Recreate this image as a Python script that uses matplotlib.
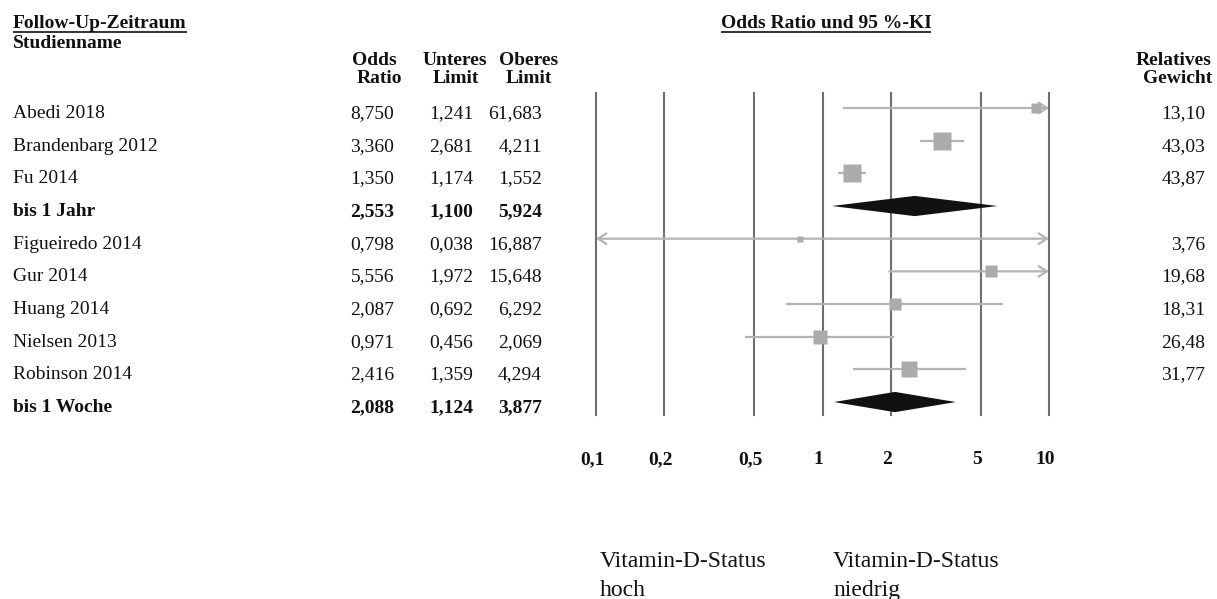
import numpy as np
import matplotlib
matplotlib.use("Agg")
import matplotlib.pyplot as plt
from matplotlib.transforms import blended_transform_factory, offset_copy

plt.rcParams['font.family'] = ['Liberation Serif', 'DejaVu Serif']

# ---------------- data ----------------
studies = ["Abedi 2018", "Brandenbarg 2012", "Fu 2014", "bis 1 Jahr",
           "Figueiredo 2014", "Gur 2014", "Huang 2014", "Nielsen 2013",
           "Robinson 2014", "bis 1 Woche"]
odds_ratio = [8.750, 3.360, 1.350, 2.553, 0.798, 5.556, 2.087, 0.971, 2.416, 2.088]
lower_limit = [1.241, 2.681, 1.174, 1.100, 0.038, 1.972, 0.692, 0.456, 1.359, 1.124]
upper_limit = [61.683, 4.211, 1.552, 5.924, 16.887, 15.648, 6.292, 2.069, 4.294, 3.877]
rel_weight = [13.10, 43.03, 43.87, None, 3.76, 19.68, 18.31, 26.48, 31.77, None]
is_summary = [False, False, False, True, False, False, False, False, False, True]
tick_values = [0.1, 0.2, 0.5, 1, 2, 5, 10]
tick_labels = ["0,1", "0,2", "0,5", "1", "2", "5", "10"]


def de(v):
    return f"{v:.3f}".replace('.', ',')


def de2(v):
    return f"{v:.2f}".replace('.', ',')


W, H = 1217, 599
fig = plt.figure(figsize=(W / 100, H / 100), dpi=100)
fig.patch.set_facecolor('white')

# overlay axes in pixel coordinates for the table text
tab = fig.add_axes([0, 0, 1, 1])
tab.set_xlim(0, W)
tab.set_ylim(H, 0)
tab.axis('off')

FS = 14
row_y0, row_dy = 108, 32.67
base_off = 10  # baseline offset of row text relative to mark centre

hb = dict(fontsize=FS, fontweight='bold', va='baseline', color='#111111')
# headers
t1 = tab.text(13, 28, "Follow-Up-Zeitraum", ha='left', **hb)
tab.text(13, 48, "Studienname", ha='left', **hb)
t2 = tab.text(826, 28, "Odds Ratio und 95 %-KI", ha='center', **hb)
tab.text(374, 65, "Odds", ha='center', **hb)
tab.text(379.5, 83, "Ratio", ha='center', **hb)
tab.text(455, 65, "Unteres", ha='center', **hb)
tab.text(455.5, 83, "Limit", ha='center', **hb)
tab.text(528.5, 65, "Oberes", ha='center', **hb)
tab.text(528.5, 83, "Limit", ha='center', **hb)
tab.text(1212, 65, "Relatives", ha='right', **hb)
tab.text(1212, 83, "Gewicht", ha='right', **hb)

for i, name in enumerate(studies):
    y = row_y0 + i * row_dy + base_off
    fw = 'bold' if is_summary[i] else 'normal'
    kw = dict(fontsize=FS, fontweight=fw, va='baseline', color='#111111')
    tab.text(13, y, name, ha='left', **kw)
    tab.text(394, y, de(odds_ratio[i]), ha='right', **kw)
    tab.text(473, y, de(lower_limit[i]), ha='right', **kw)
    tab.text(542, y, de(upper_limit[i]), ha='right', **kw)
    if rel_weight[i] is not None:
        tab.text(1205, y, de2(rel_weight[i]), ha='right', fontsize=FS, va='baseline', color='#111111')

bk = dict(fontsize=17, ha='left', va='baseline', color='#111111')
tab.text(600, 567, "Vitamin-D-Status", **bk)
tab.text(600, 596, "hoch", **bk)
tab.text(833, 567, "Vitamin-D-Status", **bk)
tab.text(833, 596, "niedrig", **bk)

# ---------------- forest axes ----------------
x0p, x1p, y0p, y1p = 596, 1049, 93, 415
ax = fig.add_axes([x0p / W, (H - y1p) / H, (x1p - x0p) / W, (y1p - y0p) / H])
ax.set_xscale('log')
ax.set_xlim(0.1, 10)
top = (y0p - row_y0) / row_dy
bot = (y1p - row_y0) / row_dy
ax.set_ylim(bot, top)
ax.axis('off')
ax.patch.set_alpha(0)

for v in tick_values:
    ax.axvline(v, color='#6e6e6e', lw=1.5, clip_on=False, zorder=1)

trans = blended_transform_factory(ax.transData, ax.transAxes)
trans = offset_copy(trans, fig=fig, x=-4, y=0, units='dots')
label_y = (y1p - 464) / (y1p - y0p)
for v, lab in zip(tick_values, tick_labels):
    ax.text(v, label_y, lab, transform=trans, fontsize=FS, fontweight='bold',
            ha='center', va='baseline', clip_on=False, color='#111111')

xmin, xmax = 0.1, 10
line_col = '#b4b4b4'
mark_col = '#ababab'
for i in range(len(studies)):
    o, lo, hi = odds_ratio[i], lower_limit[i], upper_limit[i]
    if is_summary[i]:
        ax.fill([lo, o, hi, o], [i, i - 0.31, i, i + 0.31], color='#111111', zorder=4, lw=0)
        continue
    lo_c, hi_c = max(lo, xmin), min(hi, xmax)
    left_arrow, right_arrow = lo < xmin, hi > xmax
    style = ('<' if left_arrow else '') + '-' + ('>' if right_arrow else '')
    if style == '-':
        ax.plot([lo_c, hi_c], [i, i], color=line_col, lw=1.6, zorder=3, solid_capstyle='butt')
    else:
        ax.annotate('', xy=(hi_c, i), xytext=(lo_c, i),
                    arrowprops=dict(arrowstyle=style + ',head_length=0.6,head_width=0.38',
                                    color=line_col, lw=1.6, shrinkA=0, shrinkB=0,
                                    mutation_scale=10),
                    annotation_clip=False, zorder=3)
    side_px = 2.85 * np.sqrt(rel_weight[i])
    ax.plot([o], [i], marker='s', ms=side_px * 0.72, color=mark_col, mec='none', zorder=5)

# underlines
fig.canvas.draw()
r = fig.canvas.get_renderer()
inv = tab.transData.inverted()
for t in (t1, t2):
    bb = t.get_window_extent(r)
    xa, _ = inv.transform((bb.x0, bb.y0))
    xb, _ = inv.transform((bb.x1, bb.y0))
    tab.plot([xa, xb], [32, 32], color='#111111', lw=1.2, solid_capstyle='butt')

fig.savefig('out.png', dpi=100, facecolor='white')
